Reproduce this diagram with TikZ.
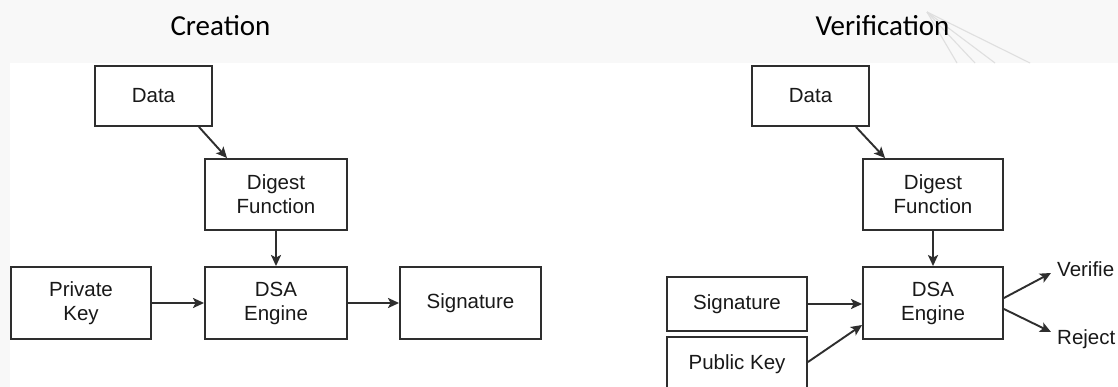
\documentclass[tikz,border=0pt]{standalone}
\usepackage{fontspec}
\setmainfont{Liberation Sans}
\newfontfamily\titlefont{Carlito}
\usetikzlibrary{arrows.meta}
\definecolor{ink}{HTML}{2E2E2E}
\definecolor{band}{HTML}{F8F8F8}

\begin{document}
\begin{tikzpicture}[x=1pt,y=-1pt,
  box/.style={draw=ink, line width=1.9pt, fill=white, align=center, text=black!90,
    font=\fontsize{20.5}{24}\selectfont, inner sep=0pt},
  arr/.style={draw=ink, line width=1.9pt, -{Stealth[length=11pt,width=10pt,inset=2.5pt]}},
  heading/.style={font=\titlefont\fontsize{29}{34}\selectfont, text=black, anchor=base},
  lbl/.style={font=\fontsize{20.5}{24}\selectfont, text=black!90, inner sep=0pt, anchor=west}]
\useasboundingbox (0,0) rectangle (1118,387);
\clip (0,0) rectangle (1118,387);

% page band and white drawing area
\fill[band] (0,0) rectangle (1118,387);
\fill[white] (10,63) rectangle (1118,387);
% faint decorative strokes at the top right
\foreach \ex in {957,975,995,1030}
  \draw[gray!25, line width=1.1pt] (927,12) -- (\ex,63);

% headings
\node[heading] (tc) at (220.5,36) {Creation};
\node[heading] (tv) at (882.5,36) {Verification};

% creation
\node[box, minimum width=117pt, minimum height=60pt] (dataL) at (153.5,96) {Data};
\node[box, minimum width=142pt, minimum height=71pt] (digL) at (276,194.5) {Digest\\Function};
\node[box, minimum width=142pt, minimum height=72pt] (dsaL) at (276,303) {DSA\\Engine};
\node[box, minimum width=140pt, minimum height=72pt] (pkL) at (81,303) {Private\\Key};
\node[box, minimum width=141pt, minimum height=72pt] (sigL) at (470.5,303) {Signature};

\draw[arr] ([xshift=-14pt]dataL.south east) -- ([xshift=23pt]digL.north west);
\draw[arr] (digL.south) -- (dsaL.north);
\draw[arr] (pkL.east) -- (dsaL.west);
\draw[arr] (dsaL.east) -- (sigL.west);

% verification
\node[box, minimum width=117pt, minimum height=60pt] (dataR) at (810.5,96) {Data};
\node[box, minimum width=140pt, minimum height=71pt] (digR) at (933,194.5) {Digest\\Function};
\node[box, minimum width=140pt, minimum height=72pt] (dsaR) at (933,303) {DSA\\Engine};
\node[box, minimum width=140pt, minimum height=54pt] (sigR) at (737,304) {Signature};
\node[box, minimum width=140pt, minimum height=64pt, text height=15pt, text depth=15pt] (pubR) at (737,369) {Public Key};
\node[lbl] (ver) at (1057,269.5) {Verifie};
\node[lbl] (rej) at (1057,339.4) {Reject};

\draw[arr] ([xshift=-14pt]dataR.south east) -- ([xshift=23pt]digR.north west);
\draw[arr] (digR.south) -- (dsaR.north);
\draw[arr] (sigR.east) -- (sigR.east -| dsaR.west);
\draw[arr] ([yshift=7pt]pubR.east) -- ([yshift=-22pt]dsaR.west);
\draw[arr] ([yshift=5pt]dsaR.east) -- ([xshift=-6pt,yshift=-3.5pt]ver.west);
\draw[arr] ([yshift=-6pt]dsaR.east) -- ([xshift=-6pt,yshift=7.4pt]rej.west);
\end{tikzpicture}
\end{document}
